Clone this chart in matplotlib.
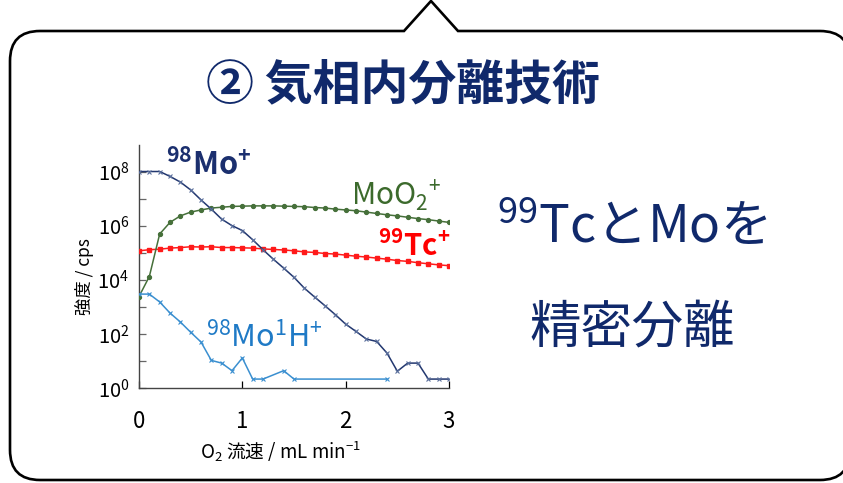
import matplotlib
matplotlib.use("Agg")
import matplotlib.pyplot as plt
import numpy as np
from matplotlib.path import Path
from matplotlib.patches import PathPatch

plt.rcParams['font.family'] = ['Noto Sans CJK JP', 'DejaVu Sans']
plt.rcParams['mathtext.fontset'] = 'custom'
plt.rcParams['mathtext.rm'] = 'Noto Sans CJK JP'
plt.rcParams['mathtext.bf'] = 'Noto Sans CJK JP:bold'

# O2 flow rate (mL/min) and signal intensities as log10(cps)
flow = [0.0, 0.1, 0.2, 0.3, 0.4, 0.5, 0.6, 0.7, 0.8, 0.9, 1.0,
        1.1, 1.2, 1.3, 1.4, 1.5, 1.6, 1.7, 1.8, 1.9, 2.0,
        2.1, 2.2, 2.3, 2.4, 2.5, 2.6, 2.7, 2.8, 2.9, 3.0]
mo_log = [8.0, 8.0, 8.0, 7.82, 7.61, 7.32, 6.95, 6.61, 6.24, 6.0, 5.82,
          5.48, 5.11, 4.76, 4.43, 4.09, 3.69, 3.36, 3.04, 2.71, 2.36,
          2.09, 1.81, 1.72, 1.29, 0.62, 0.92, 0.92, 0.33, 0.33, 0.33]
moo2_log = [3.38, 4.12, 5.69, 6.12, 6.36, 6.5, 6.58, 6.65, 6.68, 6.71, 6.72,
            6.73, 6.73, 6.73, 6.72, 6.71, 6.70, 6.67, 6.65, 6.61, 6.58,
            6.55, 6.5, 6.45, 6.4, 6.36, 6.31, 6.26, 6.22, 6.17, 6.12]
tc_log = [5.07, 5.11, 5.13, 5.17, 5.19, 5.22, 5.21, 5.22, 5.19, 5.19, 5.18,
          5.17, 5.14, 5.12, 5.10, 5.07, 5.03, 5.01, 4.97, 4.95, 4.91,
          4.87, 4.84, 4.80, 4.76, 4.71, 4.68, 4.63, 4.59, 4.55, 4.52]
moh_flow = [0.0, 0.1, 0.2, 0.3, 0.4, 0.5, 0.6, 0.7, 0.8, 0.9, 1.0,
            1.1, 1.2, 1.4, 1.5, 2.4]
moh_log = [3.47, 3.47, 3.18, 2.77, 2.44, 2.06, 1.70, 1.02, 0.92, 0.64, 1.11,
           0.33, 0.33, 0.64, 0.33, 0.33]

xticks = [0, 1, 2, 3]
ymajor = [0, 2, 4, 6, 8]
yminor = [1, 3, 5, 7]

navy = '#10296b'
W, H = 843, 483

fig = plt.figure(figsize=(W / 100, H / 100), dpi=100)

# speech bubble frame, drawn in pixel coordinates
bg = fig.add_axes([0, 0, 1, 1])
bg.set_xlim(0, W)
bg.set_ylim(H, 0)
bg.axis('off')
x0, x1, top, bot, r = 10, 850, 31, 480, 30
verts = [(x0, top + r), (x0, top), (x0 + r, top),
         (404, top), (431, 1), (458, top),
         (x1 - r, top), (x1, top), (x1, top + r),
         (x1, bot - r), (x1, bot), (x1 - r, bot),
         (x0 + r, bot), (x0, bot), (x0, bot - r),
         (x0, top + r)]
codes = [Path.MOVETO, Path.CURVE3, Path.CURVE3,
         Path.LINETO, Path.LINETO, Path.LINETO,
         Path.LINETO, Path.CURVE3, Path.CURVE3,
         Path.LINETO, Path.CURVE3, Path.CURVE3,
         Path.LINETO, Path.CURVE3, Path.CURVE3,
         Path.CLOSEPOLY]
bg.add_patch(PathPatch(Path(verts, codes), facecolor='white',
                       edgecolor='black', lw=1.9))

fig.text(403 / W, 1 - 85 / H, '② 気相内分離技術', ha='center', va='center',
         fontsize=34.5, fontweight='bold', color=navy)
fig.text(632 / W, 1 - 243 / H, r'$^{99}$TcとMoを', ha='center', va='baseline',
         fontsize=37, color=navy)
fig.text(632 / W, 1 - 342 / H, '精密分離', ha='center', va='baseline',
         fontsize=37, color=navy)

# intensity vs flow chart
ax = fig.add_axes([139 / W, 1 - 388 / H, 310 / W, (388 - 145) / H])
ax.set_facecolor('none')

ax.plot(flow, 10 ** np.array(tc_log), color='#ff1a1a', lw=1.1,
        marker='s', ms=2.6, mec='#ff1a1a', zorder=3)
ax.plot(flow, 10 ** np.array(moo2_log), color='#46703a', lw=1.1,
        marker='o', ms=2.8, mec='#46703a', zorder=3)
ax.plot(moh_flow, 10 ** np.array(moh_log), color='#3a8fd0', lw=1.1,
        marker='x', ms=3.2, mew=0.8, zorder=3)
ax.plot(flow, 10 ** np.array(mo_log), color='#22376f', lw=1.1,
        marker='x', ms=3.0, mew=0.8, mec='#5a6f9c', zorder=4)

ax.set_yscale('log')
ax.set_xlim(0, 3)
ax.set_ylim(1, 10 ** 8.98)
ax.set_xticks(xticks)
ax.set_xticklabels([str(t) for t in xticks])
ax.set_yticks([10.0 ** e for e in ymajor])
ax.set_yticklabels([r'$\mathrm{10^{%d}}$' % e for e in ymajor])
ax.set_yticks([10.0 ** e for e in yminor], minor=True)
ax.set_yticklabels([], minor=True)

for side in ['top', 'right']:
    ax.spines[side].set_visible(False)
for side in ['left', 'bottom']:
    ax.spines[side].set_color('#444444')
    ax.spines[side].set_linewidth(1.0)
ax.tick_params(axis='both', which='both', direction='in', length=5,
               color='#666666', width=0.9)
ax.tick_params(axis='x', labelsize=16, pad=16, colors='black')
ax.tick_params(axis='y', which='major', labelsize=14.5, pad=7)

# series labels
ax.text(0.26, 10 ** 7.88, r'$\mathbf{^{98}Mo^{+}}$', fontsize=22,
        color='#1b2f6e', va='baseline')
ax.text(2.05, 10 ** 6.77, r'MoO$_{2}$$^{+}$', fontsize=21.5,
        color='#3c6a2c', va='baseline')
ax.text(2.31, 10 ** 4.89, r'$\mathbf{^{99}Tc^{+}}$', fontsize=21,
        color='#ff0000', va='baseline')
ax.text(0.65, 10 ** 1.49, r'$^{98}$Mo$^{1}$H$^{+}$', fontsize=22,
        color='#1f7ac6', va='baseline')

fig.text(280 / W, 1 - 452 / H, r'O$_{2}$ 流速 / mL min$^{-1}$', ha='center',
         va='center', fontsize=13.5)
fig.text(85 / W, 1 - 277 / H, '強度 / cps', ha='center', va='center',
         rotation=90, fontsize=12.5)

fig.savefig('out.png', dpi=100)
